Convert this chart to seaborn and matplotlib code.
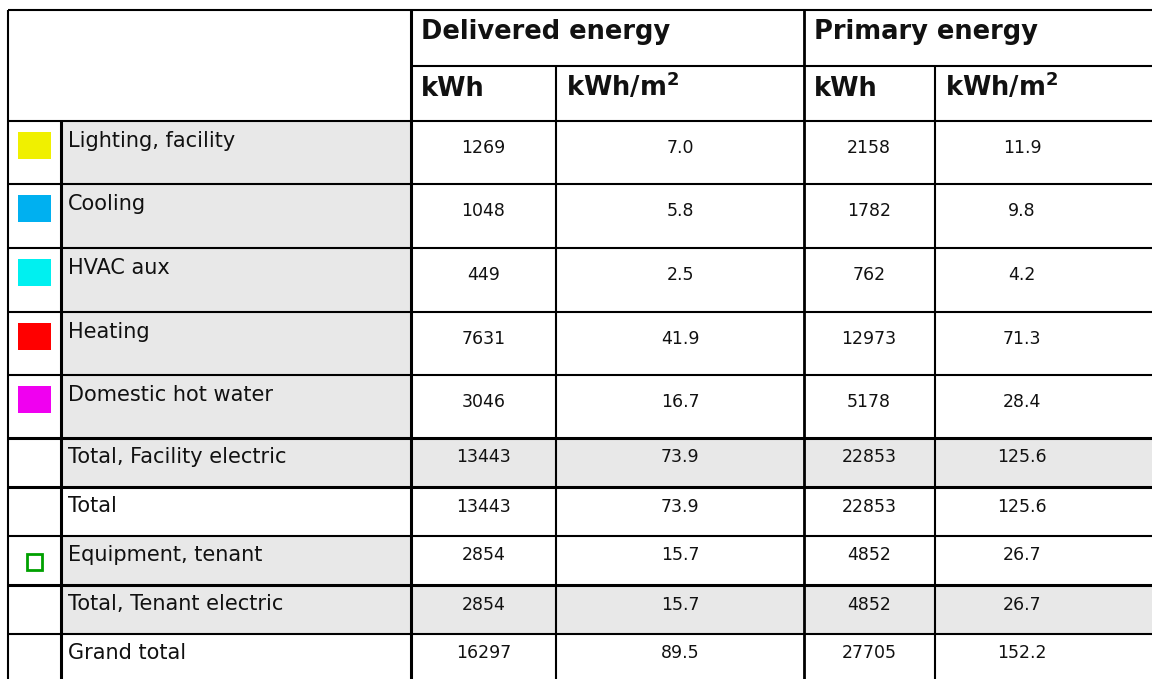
import matplotlib
matplotlib.use("Agg")
import matplotlib.pyplot as plt
from matplotlib.patches import Rectangle
import seaborn as sns

# ---------------- data ----------------
categories = ["Lighting, facility", "Cooling", "HVAC aux", "Heating",
              "Domestic hot water", "Total, Facility electric", "Total",
              "Equipment, tenant", "Total, Tenant electric", "Grand total"]
delivered_kwh = [1269, 1048, 449, 7631, 3046, 13443, 13443, 2854, 2854, 16297]
delivered_kwh_m2 = [7.0, 5.8, 2.5, 41.9, 16.7, 73.9, 73.9, 15.7, 15.7, 89.5]
primary_kwh = [2158, 1782, 762, 12973, 5178, 22853, 22853, 4852, 4852, 27705]
primary_kwh_m2 = [11.9, 9.8, 4.2, 71.3, 28.4, 125.6, 125.6, 26.7, 26.7, 152.2]
swatch_colors = ["#F0F000", "#00B0F0", "#00F0F0", "#FF0000", "#F000F0",
                 None, None, "#00A000", None, None]
swatch_hollow = [False, False, False, False, False, False, False, True, False, False]
group_headers = ["Delivered energy", "Primary energy"]
unit_headers = ["kWh", r"kWh/m$^{\mathbf{2}}$", "kWh", r"kWh/m$^{\mathbf{2}}$"]
# shading: "label" = only label cell grey, "row" = whole row grey, "" = none
row_shading = ["label", "label", "label", "label", "label", "row", "", "label", "row", ""]
tall_rows = [True, True, True, True, True, False, False, False, False, False]

# ---------------- style ----------------
sns.set_theme(style="white")
plt.rcParams["font.family"] = ["DejaVu Sans"]

W, H = 1152, 679
fig = plt.figure(figsize=(W / 100, H / 100), dpi=100)
ax = fig.add_axes([0, 0, 1, 1])
ax.set_xlim(0, W)
ax.set_ylim(H, 0)
ax.axis("off")

GREY = "#E8E8E8"
LW = 1.5
TXT = "#111111"

# layout geometry (pixels)
x_left, x_icon, x_label = 8, 61, 411
x_cols = [411, 556, 804, 935, 1160]
y_top, y_mid, y_head = 10, 66, 121
row_edges = [121, 184, 248, 312, 375, 438, 487, 536, 585, 634, 690]

# shading
for i, shade in enumerate(row_shading):
    y0, y1 = row_edges[i], row_edges[i + 1]
    if shade == "label":
        ax.add_patch(Rectangle((x_icon, y0), x_label - x_icon, y1 - y0,
                               facecolor=GREY, edgecolor="none", zorder=0))
    elif shade == "row":
        ax.add_patch(Rectangle((x_icon, y0), W - x_icon + 10, y1 - y0,
                               facecolor=GREY, edgecolor="none", zorder=0))

# swatches
for i, c in enumerate(swatch_colors):
    if c is None:
        continue
    y0 = row_edges[i]
    if swatch_hollow[i]:
        ax.add_patch(Rectangle((27, y0 + 18), 15, 16, facecolor="white",
                               edgecolor=c, linewidth=2.0, zorder=2))
    else:
        ax.add_patch(Rectangle((18, y0 + 11), 33, 27, facecolor=c,
                               edgecolor="none", zorder=2))

# grid lines
line_kw = dict(color="black", linewidth=LW, zorder=3, solid_capstyle="butt")
ax.plot([x_left, W + 5], [y_top, y_top], **line_kw)
ax.plot([x_label, W + 5], [y_mid, y_mid], **line_kw)
for y in row_edges[:-1]:
    lw = 2.2 if y in (438, 487, 585) else LW
    ax.plot([x_left, W + 5], [y, y], color="black", linewidth=lw, zorder=3,
            solid_capstyle="butt")
ax.plot([x_left, x_left], [y_top, H + 5], **line_kw)
ax.plot([x_icon, x_icon], [y_head, H + 5], color="black", linewidth=2.2, zorder=3)
ax.plot([x_label, x_label], [y_top, H + 5], color="black", linewidth=2.2, zorder=3)
ax.plot([x_cols[1], x_cols[1]], [y_mid, H + 5], **line_kw)
ax.plot([x_cols[2], x_cols[2]], [y_top, H + 5], color="black", linewidth=2.0, zorder=3)
ax.plot([x_cols[3], x_cols[3]], [y_mid, H + 5], **line_kw)

# headers
for j, g in enumerate(group_headers):
    ax.text(x_cols[2 * j] + 10, 39, g, fontsize=18.5, fontweight="bold",
            color=TXT, ha="left", va="baseline", zorder=4)
for j, u in enumerate(unit_headers):
    ax.text(x_cols[j] + 10, 96, u, fontsize=18.5, fontweight="bold",
            color=TXT, ha="left", va="baseline", zorder=4)

# body
columns = [delivered_kwh, delivered_kwh_m2, primary_kwh, primary_kwh_m2]
fmts = ["{:d}", "{:.1f}", "{:d}", "{:.1f}"]
col_centers = [483.5, 680, 869, 1022]
for i, name in enumerate(categories):
    y0 = row_edges[i]
    tall = tall_rows[i]
    lab_base = y0 + (26 if tall else 25)
    num_base = y0 + (32 if tall else 24.5)
    ax.text(x_icon + 7, lab_base, name, fontsize=15, color=TXT,
            ha="left", va="baseline", zorder=4)
    for j, col in enumerate(columns):
        ax.text(col_centers[j], num_base, fmts[j].format(col[i]), fontsize=12.5,
                color=TXT, ha="center", va="baseline", zorder=4)

fig.savefig("out.png", dpi=100, facecolor="white")
